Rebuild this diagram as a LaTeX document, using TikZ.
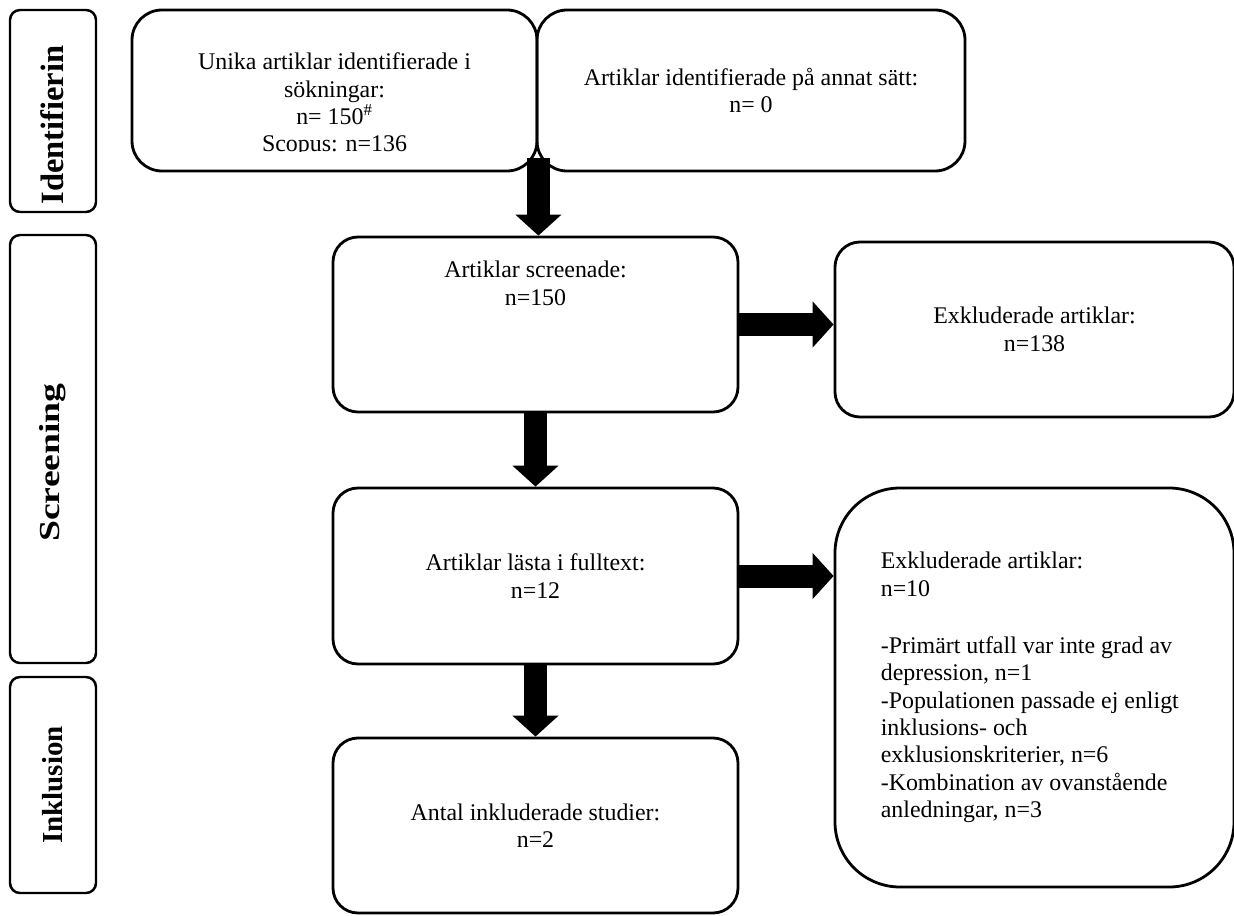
\documentclass[tikz,border=0pt]{standalone}
\usepackage{graphicx}
\usepackage{fontspec}
\setmainfont{Liberation Serif}
\usetikzlibrary{arrows.meta,calc}

\begin{document}
\begin{tikzpicture}[
  box/.style={draw, line width=1.6pt, rounded corners=0.5cm, align=center,
    font=\fontsize{13.6}{15.6}\selectfont},
  txt/.style={align=center, font=\fontsize{13.6}{15.6}\selectfont},
  side/.style={draw, line width=1.4pt, rounded corners=0.2cm, rotate=90,
    minimum height=1.72cm, font=\fontsize{16.5}{18}\selectfont\bfseries},
  sidetxt/.style={rotate=90, font=\fontsize{16.5}{18}\selectfont\bfseries},
  fat/.style={line width=0.46cm, -{Triangle[width=0.9cm,length=0.42cm]}}
]
\useasboundingbox (0,0) rectangle (24.68,-18.3);

% faser
\node[side, minimum width=4.04cm] (ident) at (1.06,-2.22) {};
\node[sidetxt, font=\fontsize{18.5}{20}\selectfont\bfseries] (identtxt) at (1.04,-2.5) {Identifierin};
\node[side, minimum width=8.56cm] (scr) at (1.06,-8.98) {};
\node[sidetxt] (scrtxt) at (1.06,-9.25) {\scalebox{1.3}[1]{Screening}};
\node[side, minimum width=4.32cm] (inkl) at (1.06,-15.7) {Inklusion};

% identifiering
\node[box, minimum width=8.1cm, minimum height=3.22cm, rounded corners=0.6cm] (sok) at (6.69,-1.81) {};
\begin{scope}
\clip (2.7,0) rectangle (10.7,-3.02);
\node[txt] (soktxt) at (6.69,-2.1) {Unika artiklar identifierade i\\ sökningar:\\ n= 150\textsuperscript{\#}\\ Scopus: n=136};
\end{scope}
\node[box, minimum width=8.56cm, minimum height=3.22cm, rounded corners=0.6cm] (annat) at (15.02,-1.81) {Artiklar identifierade på annat sätt:\\ n= 0};

% screening
\node[box, minimum width=8.1cm, minimum height=3.5cm] (screen) at (10.71,-6.49) {};
\node[txt] (screentxt) at (10.71,-5.67) {Artiklar screenade:\\ n=150};
\node[box, minimum width=7.98cm, minimum height=3.5cm] (exkl1) at (20.69,-6.59) {Exkluderade artiklar:\\ n=138};
\node[box, minimum width=8.1cm, minimum height=3.52cm] (fulltext) at (10.71,-11.52) {Artiklar lästa i fulltext:\\ n=12};
\node[box, minimum width=7.98cm, minimum height=7.98cm, rounded corners=1.3cm] (exkl2) at (20.69,-13.75) {};
\node[txt, align=left, anchor=west] (exkl2txt) at ($(exkl2.west)+(0.82,0)$) {Exkluderade artiklar:\\ n=10\\[17pt]
-Primärt utfall var inte grad av\\ depression, n=1\\ -Populationen passade ej enligt\\ inklusions- och\\ exklusionskriterier, n=6\\ -Kombination av ovanstående\\ anledningar, n=3};

% inklusion
\node[box, minimum width=8.1cm, minimum height=3.5cm] (studier) at (10.71,-16.51) {Antal inkluderade studier:\\ n=2};

% pilar
\coordinate (start) at ($(sok.south east)+(0,0.28)$);
\draw[fat] (start) -- (start |- screen.north);
\draw[fat] (screen.east) -- (screen.east -| exkl1.west);
\draw[fat] (screen.south) -- (fulltext.north);
\draw[fat] (fulltext.east) -- (fulltext.east -| exkl2.west);
\draw[fat] (fulltext.south) -- (studier.north);

\end{tikzpicture}
\end{document}
